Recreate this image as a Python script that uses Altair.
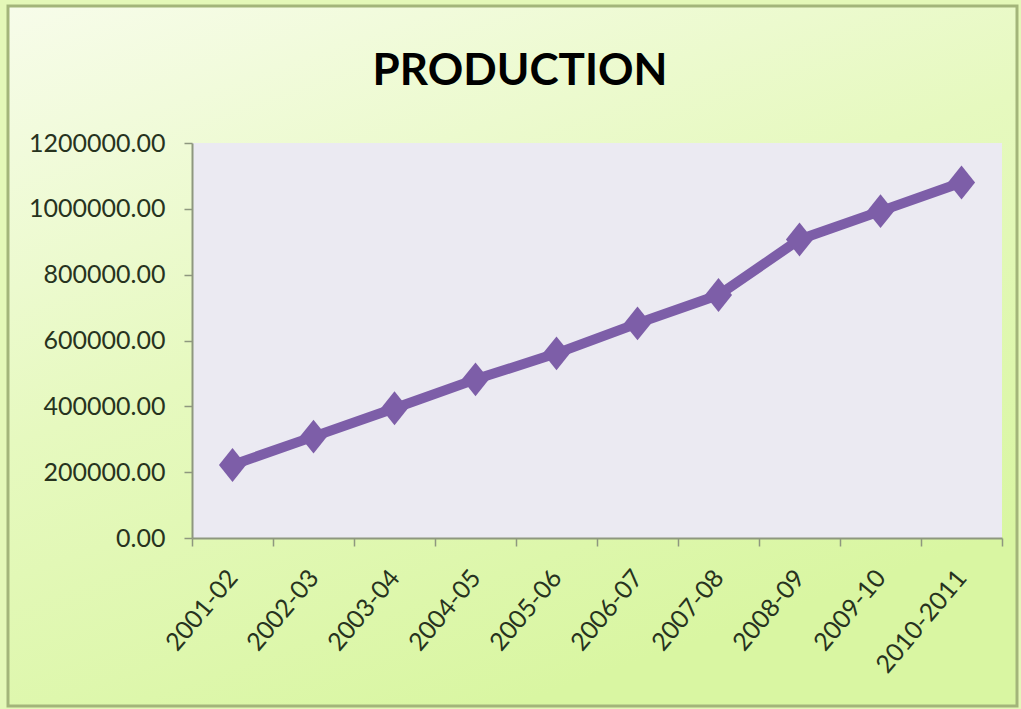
import altair as alt
import pandas as pd

# Production by financial year
periods = ["2001-02", "2002-03", "2003-04", "2004-05", "2005-06",
           "2006-07", "2007-08", "2008-09", "2009-10", "2010-2011"]
production = [222000, 308000, 394000, 482000, 561000,
              652000, 738000, 907000, 993000, 1080000]

y_ticks = [0, 200000, 400000, 600000, 800000, 1000000, 1200000]
title_text = "PRODUCTION"

df = pd.DataFrame({"period": periods, "production": production})
frame_df = pd.DataFrame({"k": [0]})

PLOT_W, PLOT_H = 810, 395
LINE_COLOR = "#7D5EA8"
TEXT_COLOR = "#27331E"
AXIS_COLOR = "#8E977F"

# soft green card behind the whole chart, paler towards the top
card = alt.Chart(frame_df).mark_rect(
    fill=alt.Gradient(
        gradient="linear",
        stops=[alt.GradientStop(color="#F7FCEA", offset=0),
               alt.GradientStop(color="#E6F9BF", offset=0.5),
               alt.GradientStop(color="#D9F6A2", offset=1)],
        x1=0, y1=0, x2=0.5, y2=1,
    ),
    stroke="#A3B57A", strokeWidth=3,
).encode(x=alt.value(-184), x2=alt.value(825), y=alt.value(-137), y2=alt.value(563))

# lavender plot area
plot_bg = alt.Chart(frame_df).mark_rect(fill="#EBEAF2").encode(
    x=alt.value(0), x2=alt.value(PLOT_W), y=alt.value(0), y2=alt.value(PLOT_H)
)

# chart heading
heading = alt.Chart(frame_df).mark_text(
    text=title_text, font="Lato", fontSize=44, fontWeight="bold",
    color="#000000", align="center", baseline="alphabetic",
).encode(x=alt.value(328), y=alt.value(-58))

x_enc = alt.X(
    "period:N", sort=periods, title=None,
    scale=alt.Scale(paddingInner=0, paddingOuter=0),
    axis=alt.Axis(
        labelAngle=-50, labelAlign="right", labelBaseline="middle",
        labelFont="Lato", labelFontSize=25, labelColor=TEXT_COLOR,
        labelPadding=27, tickBand="extent", tickSize=8, tickColor=AXIS_COLOR,
        tickWidth=1.5, domainColor=AXIS_COLOR, domainWidth=2,
        labelOverlap=False, grid=False, zindex=1,
    ),
)
y_enc = alt.Y(
    "production:Q", title=None,
    scale=alt.Scale(domain=[0, 1200000], nice=False),
    axis=alt.Axis(
        values=y_ticks, format=".2f", labelFont="Lato", labelFontSize=25,
        labelColor=TEXT_COLOR, labelPadding=19, tickSize=8,
        tickColor=AXIS_COLOR, tickWidth=1.5, domainColor=AXIS_COLOR,
        domainWidth=2, grid=False, zindex=1,
    ),
)

line = alt.Chart(df).mark_line(
    color=LINE_COLOR, strokeWidth=10, strokeJoin="round"
).encode(x=x_enc, y=y_enc)

points = alt.Chart(df).mark_point(
    shape="M0,-1L0.8,0L0,1L-0.8,0Z", filled=True, opacity=1,
    color=LINE_COLOR, size=1150,
).encode(x=alt.X("period:N", sort=periods), y="production:Q")

chart = alt.layer(card, plot_bg, line, points, heading).properties(
    width=PLOT_W,
    height=PLOT_H,
    autosize=alt.AutoSizeParams(type="none"),
    padding={"left": 192, "top": 143, "right": 19, "bottom": 171},
    background="#E4F8B8",
).configure_view(stroke=None)

chart.save("out.html", embed_options={"renderer": "svg", "actions": False})
